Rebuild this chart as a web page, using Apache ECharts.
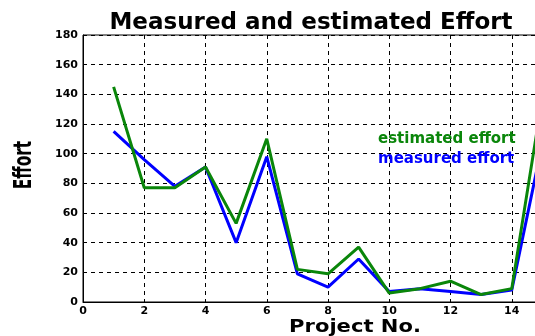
<!DOCTYPE html>
<html><head><meta charset="utf-8">
<script src="https://cdn.jsdelivr.net/npm/echarts@6/dist/echarts.min.js"></script>
<style>html,body{margin:0;padding:0;background:#fff}#c{width:535px;height:336px}</style>
</head><body><div id="c"></div>
<script>
const projects = [1,2,3,4,5,6,7,8,9,10,11,12,13,14,15];
const estimated = [145,77,77,91,53,110,22,19,37,6,9,14,5,9,138];
const measured  = [115,96,78,91,40,98,19,10,29,7,9,7,5,8,107];
const xTicks = [0,2,4,6,8,10,12,14,16];
const yTicks = [0,20,40,60,80,100,120,140,160,180];

const chart = echarts.init(document.getElementById('c'), null, {renderer:'canvas'});
const lbl = {color:'#000', fontWeight:'bold', fontSize:11, fontFamily:'DejaVu Sans'};
chart.setOption({
  animation:false,
  backgroundColor:'#fff',
  title:{text:'Measured and estimated Effort', left:306, top:7, textAlign:'center',
    textStyle:{fontFamily:'DejaVu Sans', fontWeight:'bold', fontSize:23, color:'#000'}},
  grid:{left:83, top:35, right:-38, bottom:34, show:true, borderColor:'#000', borderWidth:1,
    containLabel:false, outerBoundsMode:'none'},
  legend:{orient:'vertical', left:368, top:127, itemGap:5, icon:'none', itemWidth:0, itemHeight:0,
    data:[
      {name:'estimated effort', textStyle:{color:'#0a860a'}},
      {name:'measured effort', textStyle:{color:'#0000ff'}}
    ],
    textStyle:{fontFamily:'DejaVu Sans', fontWeight:'bold', fontSize:15}},
  graphic:[
    {type:'text', x:13, y:165, rotation:Math.PI/2, scaleX:0.64,
      style:{text:'Effort', fontFamily:'DejaVu Sans', fontWeight:'bold', fontSize:24, fill:'#000',
        align:'center', verticalAlign:'top'}},
    {type:'text', x:355, y:327, scaleX:1.17,
      style:{text:'Project No.', fontFamily:'DejaVu Sans', fontWeight:'bold', fontSize:18, fill:'#000',
        align:'center', verticalAlign:'middle'}}
  ],
  xAxis:{type:'value', min:xTicks[0], max:xTicks[xTicks.length-1], interval:2,
    axisLine:{lineStyle:{color:'#000', width:1}}, axisTick:{show:false},
    axisLabel:Object.assign({margin:4}, lbl),
    splitLine:{show:true, lineStyle:{color:'#000', type:[4,4], width:1}}},
  yAxis:{type:'value', min:yTicks[0], max:yTicks[yTicks.length-1], interval:20,
    axisLine:{show:true, lineStyle:{color:'#000', width:1}}, axisTick:{show:false},
    axisLabel:Object.assign({margin:5}, lbl),
    splitLine:{show:true, lineStyle:{color:'#000', type:[4,4], width:1}}},
  series:[
    {name:'measured effort', type:'line', data:projects.map((p,i)=>[p,measured[i]]),
      showSymbol:false, lineStyle:{color:'#0000ff', width:3}, itemStyle:{color:'#0000ff'}, z:2},
    {name:'estimated effort', type:'line', data:projects.map((p,i)=>[p,estimated[i]]),
      showSymbol:false, lineStyle:{color:'#0a860a', width:3}, itemStyle:{color:'#0a860a'}, z:3}
  ]
});
</script></body></html>
